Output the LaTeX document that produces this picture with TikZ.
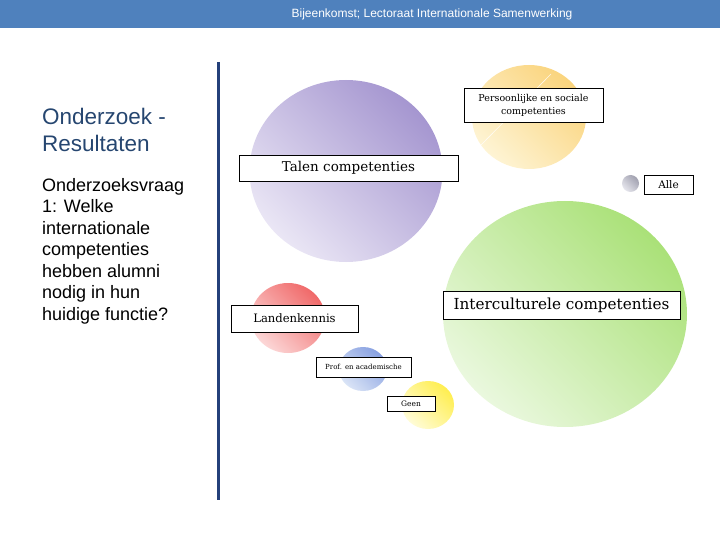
\documentclass[tikz,border=0pt]{standalone}
\usepackage{fontspec}
\setmainfont{DejaVu Serif}
\setsansfont{Liberation Sans}
\definecolor{balk}{RGB}{79,129,189}
\definecolor{lijn}{RGB}{36,64,122}
\definecolor{kop}{RGB}{38,70,112}
\definecolor{paarsA}{RGB}{165,150,208}
\definecolor{paarsB}{RGB}{234,230,245}
\definecolor{oranjeA}{RGB}{250,212,125}
\definecolor{oranjeB}{RGB}{254,244,212}
\definecolor{grijsA}{RGB}{160,160,175}
\definecolor{grijsB}{RGB}{230,230,237}
\definecolor{groenA}{RGB}{170,225,120}
\definecolor{groenB}{RGB}{234,248,222}
\definecolor{roodA}{RGB}{240,105,105}
\definecolor{roodB}{RGB}{252,215,215}
\definecolor{blauwA}{RGB}{135,160,225}
\definecolor{blauwB}{RGB}{218,228,246}
\definecolor{geelA}{RGB}{255,238,80}
\definecolor{geelB}{RGB}{255,252,215}
\tikzset{
  vak/.style={draw, fill=white, line width=0.8pt, inner sep=0pt, align=center,
    font=\fontsize{#1}{#1}\selectfont},
  bol/.style={top color=#1A, bottom color=#1B, shading angle=-45}
}
\begin{document}
\begin{tikzpicture}[x=1pt,y=-1pt]
\useasboundingbox (0,0) rectangle (720,540);
\fill[balk] (0,0) rectangle (720,28);
\node[text=white, font=\sffamily\fontsize{12}{12}\selectfont] (titel) at (432,14)
  {Bijeenkomst; Lectoraat Internationale Samenwerking};
\draw[lijn, line width=3pt] (218,62) -- (218,500);
\node[anchor=north west, align=left, inner sep=0pt, text=kop,
  font=\sffamily\fontsize{22.5}{27}\selectfont] (kopje) at (42,108)
  {Onderzoek -\\Resultaten};
\node[anchor=north west, align=left, inner sep=0pt,
  font=\sffamily\fontsize{18}{21.5}\selectfont] (vraag) at (42,178)
  {Onderzoeksvraag\\1: Welke\\internationale\\competenties\\hebben alumni\\nodig in hun\\huidige functie?};
% bollen
\shade[bol=paars] (346,171) circle [x radius=96.5pt, y radius=91pt];
\shade[bol=oranje] (529,117) circle [x radius=57pt, y radius=52pt];
\draw[white, opacity=0.8, line width=0.6pt] (551,74) -- (480,146);
\shade[bol=grijs] (630.5,183.5) circle (8.5pt);
\shade[bol=groen] (565,314) circle [x radius=122pt, y radius=113pt];
\shade[bol=rood] (288,318) circle [x radius=37pt, y radius=35pt];
\shade[bol=blauw] (363,369) circle [x radius=24pt, y radius=22pt];
\shade[bol=geel] (428,405) circle [x radius=26pt, y radius=24pt];
% labels
\node[vak=9.5, font=\fontsize{9.5}{13}\selectfont, minimum width=139pt, minimum height=34pt] (pers) at (533.5,105)
  {Persoonlijke en sociale\\competenties};
\node[vak=13.5, minimum width=219pt, minimum height=26pt] (talen) at (348.5,168) {Talen competenties};
\node[vak=10.5, minimum width=49pt, minimum height=19pt] (alle) at (668.5,184.5) {Alle};
\node[vak=11.6, minimum width=127pt, minimum height=27pt] (land) at (294.5,318.5) {Landenkennis};
\node[vak=15.2, minimum width=237pt, minimum height=28pt] (inter) at (561.5,305) {Interculturele competenties};
\node[vak=7, minimum width=95pt, minimum height=20pt] (prof) at (363.5,367) {Prof. en academische};
\node[vak=7.5, minimum width=48pt, minimum height=15pt] (geen) at (411,403.5) {Geen};
\end{tikzpicture}
\end{document}
